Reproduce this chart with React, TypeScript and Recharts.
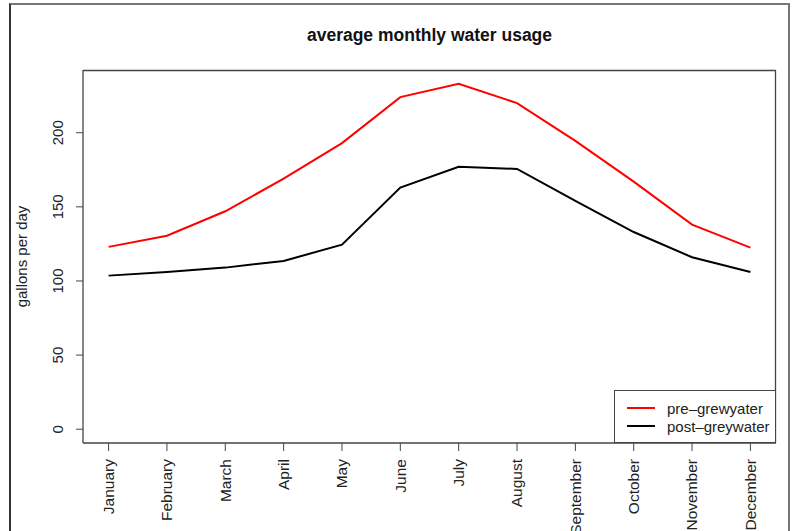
import React from 'react'
import { CartesianGrid, Legend, Line, LineChart, XAxis, YAxis } from 'recharts'

const months = ['January', 'February', 'March', 'April', 'May', 'June', 'July', 'August', 'September', 'October', 'November', 'December']
const preGreywater = [123, 130.5, 147, 169, 193, 224, 233, 220, 194.5, 167, 138, 122.5]
const postGreywater = [103.6, 106, 109, 113.5, 124.5, 163, 177, 175.6, 154, 133, 116, 106]
const yTicks = [0, 50, 100, 150, 200]

const data = months.map((m, i) => ({ month: m, pre: preGreywater[i], post: postGreywater[i] }))

const font = '"Liberation Sans", Arial, Helvetica, sans-serif'
const axisColor = '#444'

const XTick = (props: any) => {
    const { x, y, payload } = props
    return (
        <g transform={`translate(${x},${y + 1})`}>
            <text transform='rotate(-90)' textAnchor='end' dy='0.35em' fontSize={15.5} fill='#222' fontFamily={font}>
                {payload.value}
            </text>
        </g>
    )
}

const YTick = (props: any) => {
    const { x, y, payload } = props
    return (
        <g transform={`translate(${x},${y})`}>
            <text transform='rotate(-90)' textAnchor='middle' fontSize={15} fill='#222' fontFamily={font}>
                {payload.value}
            </text>
        </g>
    )
}

const LegendBox = () => (
    <div style={{ width: 160, height: 51, border: `1px solid ${axisColor}`, background: '#fff', fontFamily: font, fontSize: 15, color: '#222' }}>
        {[{ label: 'pre\u2013grewyater', color: '#ff0000' }, { label: 'post\u2013greywater', color: '#000' }].map((e, i) => (
            <div key={i} style={{ display: 'flex', alignItems: 'center', height: 18, marginTop: i === 0 ? 8 : 0 }}>
                <div style={{ width: 28, height: 2, background: e.color, marginLeft: 12, marginRight: 12 }} />
                <span>{e.label}</span>
            </div>
        ))}
    </div>
)

const App: React.FC = () => {
    return (
        <div style={{ position: 'absolute', left: 0, top: 0, width: 792, height: 531, overflow: 'hidden', background: '#fff' }}>
            <div style={{ position: 'absolute', left: 9, top: 3, width: 777, height: 600, borderLeft: '2px solid #333', borderTop: '2px solid #777', borderRight: '2px solid #777' }} />
            <div style={{ position: 'absolute', left: 0, top: 0 }}>
                <LineChart width={792} height={531} data={data} margin={{ top: 70, right: 16, left: 23, bottom: 8 }}>
                    <text x={429.5} y={41} textAnchor='middle' fontSize={17.5} fontWeight='bold' fill='#111' fontFamily={font}>
                        average monthly water usage
                    </text>
                    <text transform='translate(26.5,256.5) rotate(-90)' textAnchor='middle' fontSize={15} fill='#222' fontFamily={font}>
                        gallons per day
                    </text>
                    <CartesianGrid stroke={axisColor} strokeWidth={1.3} horizontalPoints={[70.5]} verticalPoints={[775.5]} />
                    <XAxis
                        dataKey='month'
                        interval={0}
                        padding={{ left: 25.6, right: 25.6 }}
                        height={80}
                        tickSize={8}
                        tickMargin={7}
                        tick={<XTick />}
                        axisLine={{ stroke: axisColor, strokeWidth: 1.3 }}
                        tickLine={{ stroke: axisColor }}
                    />
                    <YAxis
                        domain={[-9.3, 242.3]}
                        ticks={yTicks}
                        width={60}
                        tickSize={7}
                        tickMargin={13}
                        tick={<YTick />}
                        axisLine={{ stroke: axisColor, strokeWidth: 1.3 }}
                        tickLine={{ stroke: axisColor }}
                        allowDataOverflow
                    />
                    <Legend
                        layout='vertical'
                        align='center'
                        verticalAlign='middle'
                        content={<LegendBox />}
                        wrapperStyle={{ left: 614, top: 390, width: 162, height: 53 }}
                    />
                    <Line type='linear' dataKey='pre' stroke='#ff0000' strokeWidth={2} dot={false} isAnimationActive={false} />
                    <Line type='linear' dataKey='post' stroke='#000000' strokeWidth={2} dot={false} isAnimationActive={false} />
                </LineChart>
            </div>
        </div>
    )
}

export default App
